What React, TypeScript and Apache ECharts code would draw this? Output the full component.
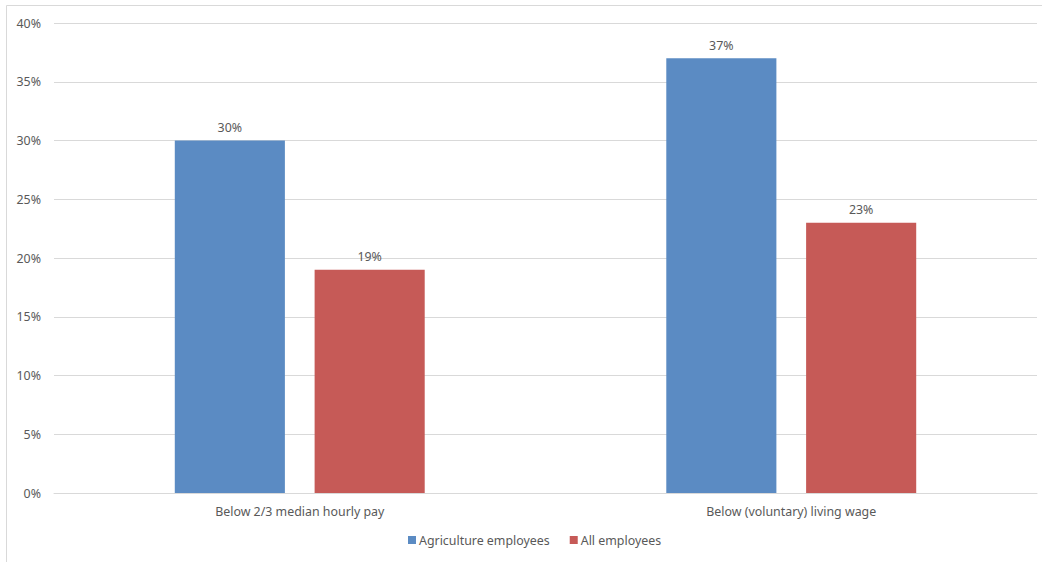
import React, { useEffect, useRef } from "react";
import * as echarts from "echarts";

const categories = ["Below 2/3 median hourly pay", "Below (voluntary) living wage"];
const agricultureEmployees = [30, 37];
const allEmployees = [19, 23];
const seriesNames = ["Agriculture employees", "All employees"];

const FONT = "'Noto Sans', 'Open Sans', sans-serif";
const FONT_SIZE = 12.4;
const TEXT = "#595959";
const GRID_LINE = "#d9d9d9";

export default function App() {
  const ref = useRef<HTMLDivElement>(null);

  useEffect(() => {
    document.body.style.margin = "0";
    const chart = echarts.init(ref.current!, null, { renderer: "svg" });
    const label = {
      show: true,
      position: "top" as const,
      distance: 7,
      color: TEXT,
      fontFamily: FONT,
      fontSize: FONT_SIZE,
      formatter: (p: any) => `${p.value}%`,
    };
    chart.setOption({
      animation: false,
      backgroundColor: "#ffffff",
      textStyle: { fontFamily: FONT },
      graphic: [
        {
          type: "rect",
          shape: { x: 6.5, y: 5.5, width: 1100, height: 600 },
          style: { fill: "none", stroke: GRID_LINE, lineWidth: 1 },
          silent: true,
        },
      ],
      grid: { left: 54, right: 5, top: 23, bottom: 69 },
      legend: {
        bottom: 11,
        left: 403,
        itemWidth: 8,
        itemHeight: 8,
        itemGap: 20,
        icon: "rect",
        textStyle: { color: TEXT, fontFamily: FONT, fontSize: FONT_SIZE, padding: [0, 0, 0, -2] },
        data: seriesNames,
      },
      xAxis: {
        type: "category",
        data: categories,
        axisLine: { lineStyle: { color: GRID_LINE } },
        axisTick: { show: false },
        axisLabel: { color: TEXT, fontFamily: FONT, fontSize: FONT_SIZE, margin: 12 },
      },
      yAxis: {
        type: "value",
        min: 0,
        max: 40,
        interval: 5,
        axisLine: { show: false },
        axisTick: { show: false },
        splitLine: { lineStyle: { color: GRID_LINE } },
        axisLabel: {
          color: TEXT,
          fontFamily: FONT,
          fontSize: FONT_SIZE,
          margin: 13,
          formatter: (v: number) => `${v}%`,
        },
      },
      series: [
        {
          name: seriesNames[0],
          type: "bar",
          data: agricultureEmployees,
          barWidth: "22.4%",
          barGap: "27%",
          itemStyle: { color: "#5b8bc3" },
          label,
        },
        {
          name: seriesNames[1],
          type: "bar",
          data: allEmployees,
          barWidth: "22.4%",
          itemStyle: { color: "#c65a57" },
          label,
        },
      ],
    });
    return () => chart.dispose();
  }, []);

  return <div ref={ref} style={{ width: 1042, height: 562 }} />;
}
